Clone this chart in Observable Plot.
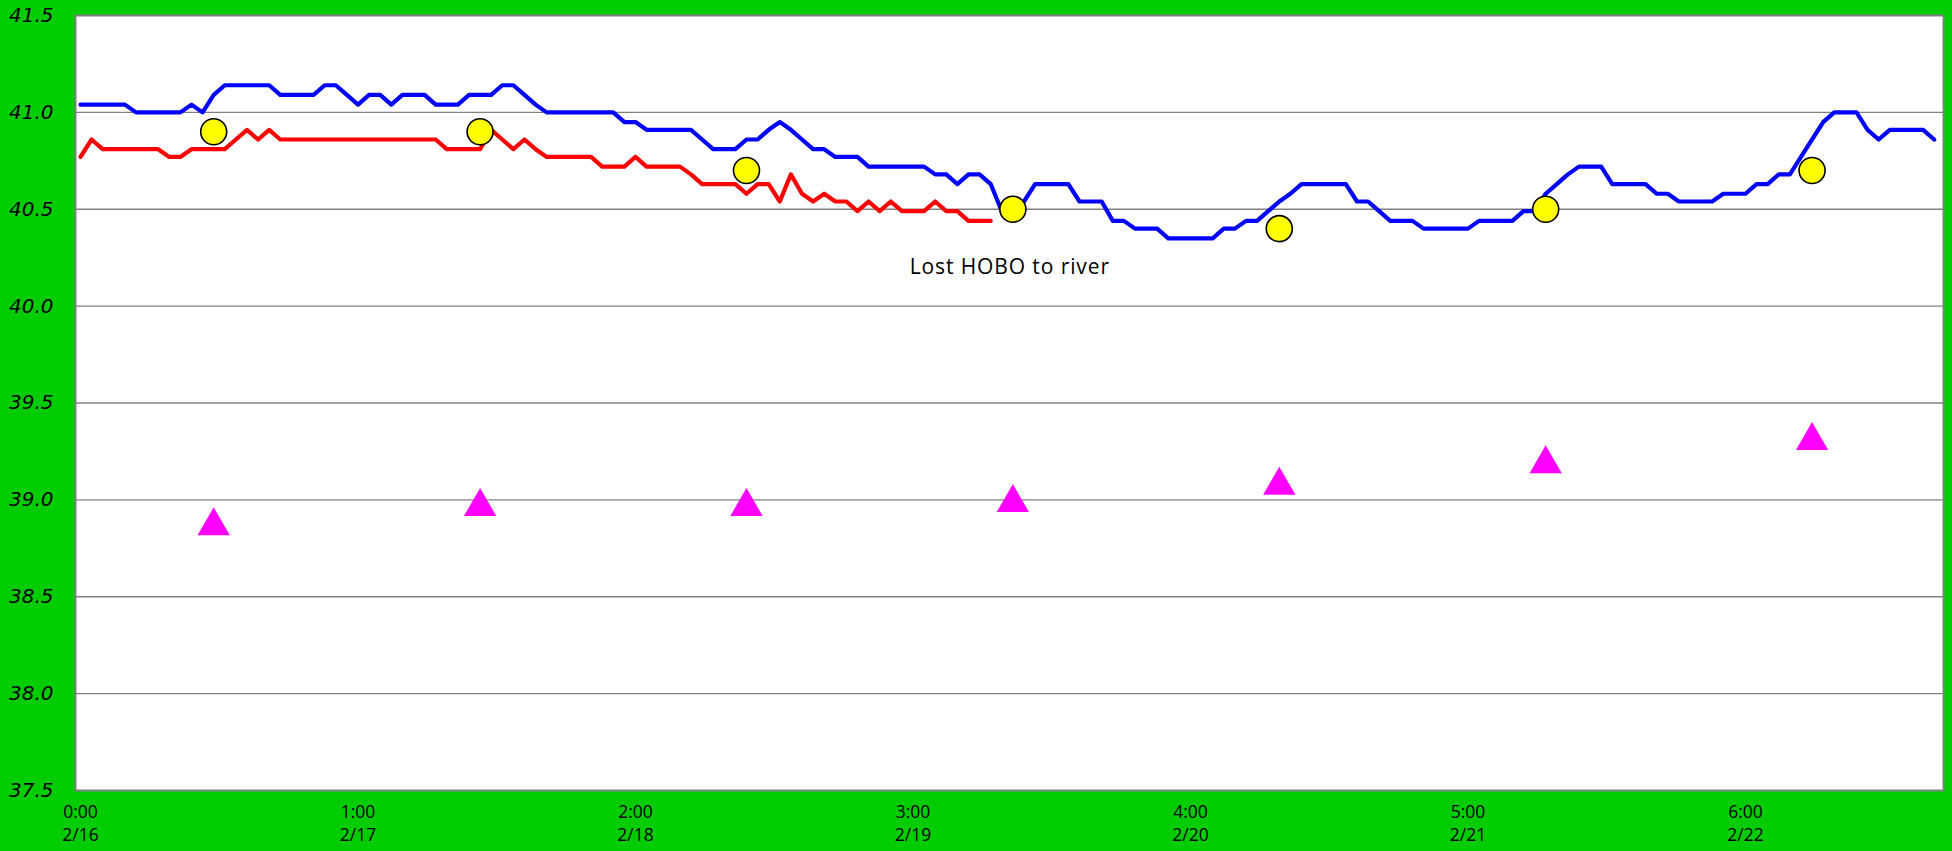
<!DOCTYPE html>
<html><head><meta charset="utf-8">
<script src="https://cdn.jsdelivr.net/npm/d3@7"></script>
<script src="https://cdn.jsdelivr.net/npm/@observablehq/plot@0.6"></script>
<style>
html,body{margin:0;padding:0;background:#00cc00;overflow:hidden;}
#chart{width:1952px;height:851px;}
</style></head><body><div id="chart"></div>
<script>
// hourly readings starting 2/16 0:00
const blueTemps = [
41.04,41.04,41.04,41.04,41.04, 41.00,41.00,41.00,41.00,41.00, 41.04,41.00,41.09,
41.14,41.14,41.14,41.14,41.14, 41.09,41.09,41.09,41.09, 41.14,41.14, 41.09,41.04,
41.09,41.09, 41.04, 41.09,41.09,41.09, 41.04,41.04,41.04, 41.09,41.09,41.09,
41.14,41.14, 41.09,41.04, 41.00,41.00,41.00,41.00,41.00,41.00,41.00, 40.95,40.95,
40.91,40.91,40.91,40.91,40.91, 40.86, 40.81,40.81,40.81, 40.86,40.86, 40.91,40.95,
40.91,40.86, 40.81,40.81, 40.77,40.77,40.77, 40.72,40.72,40.72,40.72,40.72,40.72,
40.68,40.68, 40.63, 40.68,40.68, 40.63, 40.49,40.49,40.54, 40.63,40.63,40.63,40.63,
40.54,40.54,40.54, 40.44,40.44, 40.40,40.40,40.40, 40.35,40.35,40.35,40.35,40.35,
40.40,40.40, 40.44,40.44, 40.49,40.54,40.58, 40.63,40.63,40.63,40.63,40.63,
40.54,40.54, 40.49, 40.44,40.44,40.44, 40.40,40.40,40.40,40.40,40.40,
40.44,40.44,40.44,40.44, 40.49,40.49, 40.58,40.63,40.68, 40.72,40.72,40.72,
40.63,40.63,40.63,40.63, 40.58,40.58, 40.54,40.54,40.54,40.54, 40.58,40.58,40.58,
40.63,40.63, 40.68,40.68, 40.77,40.86,40.95, 41.00,41.00,41.00, 40.91,40.86,
40.91,40.91,40.91,40.91, 40.86
];
const redTemps = [
40.77,40.86, 40.81,40.81,40.81,40.81,40.81,40.81, 40.77,40.77, 40.81,40.81,40.81,40.81,
40.86,40.91,40.86,40.91,
40.86,40.86,40.86,40.86,40.86,40.86,40.86,40.86,40.86,40.86,40.86,40.86,40.86,40.86,40.86,
40.81,40.81,40.81,40.81, 40.91,40.86,40.81,40.86,40.81,
40.77,40.77,40.77,40.77,40.77, 40.72,40.72,40.72, 40.77, 40.72,40.72,40.72,40.72,
40.68, 40.63,40.63,40.63,40.63, 40.58, 40.63,40.63, 40.54,40.68,40.58,40.54,40.58,
40.54,40.54, 40.49,40.54,40.49,40.54, 40.49,40.49,40.49, 40.54, 40.49,40.49,
40.44,40.44,40.44
];
const sampleHours = [12, 36, 60, 84, 108, 132, 156];
const yellowTemps = [40.9, 40.9, 40.7, 40.5, 40.4, 40.5, 40.7];
const magentaTemps = [38.89, 38.99, 38.99, 39.01, 39.10, 39.21, 39.33];
const tickHours = [0, 25, 50, 75, 100, 125, 150];
const tickLabels = ["0:00\n2/16", "1:00\n2/17", "2:00\n2/18", "3:00\n2/19", "4:00\n2/20", "5:00\n2/21", "6:00\n2/22"];
const yTicks = [37.5, 38.0, 38.5, 39.0, 39.5, 40.0, 40.5, 41.0, 41.5];
const noteText = "Lost HOBO to river";
const noteHour = 74.7;
const noteTemp = 40.2;

const blue = blueTemps.map((t, i) => ({h: i, t}));
const red = redTemps.map((t, i) => ({h: i, t}));
const yellow = sampleHours.map((h, i) => ({h, t: yellowTemps[i]}));
const magenta = sampleHours.map((h, i) => ({h, t: magentaTemps[i]}));

const chart = Plot.plot({
  width: 1952, height: 851,
  marginLeft: 75, marginRight: 9, marginTop: 15, marginBottom: 61,
  style: {background: "transparent", color: "#000", fontFamily: "'Open Sans'", overflow: "visible"},
  x: {domain: [-0.45, 167.84]},
  y: {domain: [37.5, 41.5]},
  marks: [
    Plot.frame({fill: "#ffffff", stroke: "none"}),
    Plot.gridY(yTicks.slice(1, -1), {stroke: "#808080", strokeOpacity: 1, strokeWidth: 1.3}),
    Plot.frame({stroke: "#808080", strokeWidth: 2}),
    Plot.axisY(yTicks, {tickSize: 0, tickPadding: 22, tickFormat: d3.format(".1f"), fontSize: 20,
      fontStyle: "italic", fontFamily: "DejaVu Sans", label: null}),
    Plot.axisX(tickHours, {tickSize: 0, tickPadding: 11, tickFormat: d => tickLabels[tickHours.indexOf(d)],
      fontSize: 17.5, lineHeight: 1.33, label: null}),
    Plot.line(red, {x: "h", y: "t", stroke: "#ff0000", strokeWidth: 4.2, strokeLinejoin: "round"}),
    Plot.line(blue, {x: "h", y: "t", stroke: "#0000ff", strokeWidth: 4.2, strokeLinejoin: "round"}),
    Plot.text([{h: noteHour, t: noteTemp}], {x: "h", y: "t", text: () => noteText, textAnchor: "start",
      fontSize: 21, fontFamily: "'Open Sans'", fill: "#000"}),
    Plot.dot(yellow, {x: "h", y: "t", r: 13, fill: "#ffff00", stroke: "#000", strokeWidth: 1.6}),
    Plot.dot(magenta, {x: "h", y: "t", symbol: "triangle", r: 12, fill: "#ff00ff", stroke: "none", dy: 4.8})
  ]
});
document.getElementById("chart").appendChild(chart);
d3.select(chart).selectAll("text").filter(function(){ return this.textContent === noteText; })
  .style("letter-spacing", "0.9px");
</script>
</body></html>
